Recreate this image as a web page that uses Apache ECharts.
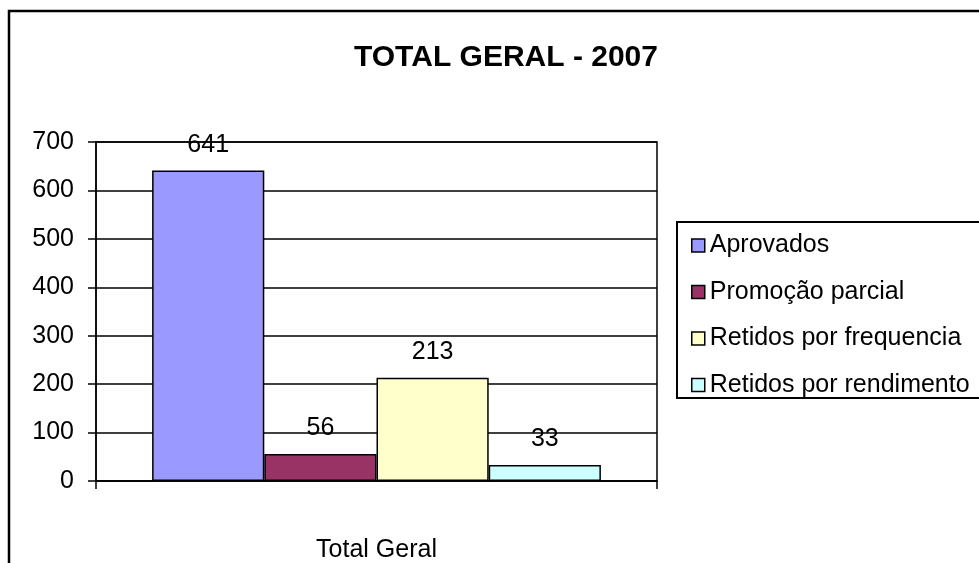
<!DOCTYPE html>
<html>
<head>
<meta charset="utf-8">
<script src="https://cdn.jsdelivr.net/npm/echarts@6/dist/echarts.min.js"></script>
<style>
    html, body { margin: 0; padding: 0; background: #fff; }
    #container { width: 979px; height: 563px; }
</style>
</head>
<body>
<div id="container"></div>
<script type="text/javascript">
    var categories = ['Total Geral'];
    var seriesNames = ['Aprovados', 'Promoção parcial', 'Retidos por frequencia', 'Retidos por rendimento'];
    var seriesValues = [[641], [56], [213], [33]];
    var seriesColors = ['#9999FF', '#993366', '#FFFFCC', '#CCFFFF'];

    var dom = document.getElementById("container");
    var myChart = echarts.init(dom);
    var font = '"Liberation Sans", Arial, sans-serif';

    var series = [];
    for (var i = 0; i < seriesNames.length; i++) {
        series.push({
            name: seriesNames[i],
            type: 'bar',
            barGap: '0%',
            barCategoryGap: '20%',
            data: seriesValues[i],
            itemStyle: {color: seriesColors[i], borderColor: '#000', borderWidth: 1.5},
            label: {
                show: true,
                position: 'top',
                distance: 13,
                color: '#000',
                fontFamily: font,
                fontSize: 25
            }
        });
    }

    var option = {
        animation: false,
        textStyle: {fontFamily: font},
        title: {
            text: 'TOTAL GERAL - 2007',
            left: 349,
            top: 38,
            textStyle: {fontFamily: font, fontSize: 30, fontWeight: 'bold', color: '#000'}
        },
        legend: {
            orient: 'vertical',
            left: 686,
            top: 228,
            icon: 'rect',
            itemWidth: 13,
            itemHeight: 13,
            itemGap: 21.5,
            itemStyle: {borderColor: '#000', borderWidth: 1.5},
            textStyle: {fontFamily: font, fontSize: 25, color: '#000'},
            data: seriesNames
        },
        grid: {
            left: 96,
            top: 142,
            width: 561,
            height: 340,
            show: true,
            borderColor: '#000',
            borderWidth: 1.5,
            containLabel: false
        },
        xAxis: {
            type: 'category',
            data: categories,
            axisLine: {lineStyle: {color: '#000', width: 1.5}},
            axisTick: {show: true, length: 8, inside: false, lineStyle: {color: '#000', width: 1.5}},
            axisLabel: {margin: 57, color: '#000', fontFamily: font, fontSize: 25}
        },
        yAxis: {
            type: 'value',
            min: 0,
            max: 700,
            interval: 100,
            axisLine: {show: true, lineStyle: {color: '#000', width: 1.5}},
            axisTick: {show: true, length: 8, lineStyle: {color: '#000', width: 1.5}},
            axisLabel: {margin: 22, color: '#000', fontFamily: font, fontSize: 25},
            splitLine: {show: true, lineStyle: {color: '#000', width: 1.5}}
        },
        graphic: [
            {
                type: 'rect',
                shape: {x: 9, y: 11, width: 990, height: 570},
                style: {fill: 'none', stroke: '#000', lineWidth: 2.5},
                silent: true
            },
            {
                type: 'rect',
                shape: {x: 677, y: 222, width: 320, height: 176},
                style: {fill: 'none', stroke: '#000', lineWidth: 2},
                silent: true
            }
        ],
        series: series
    };
    myChart.setOption(option, true);
</script>
</body>
</html>
